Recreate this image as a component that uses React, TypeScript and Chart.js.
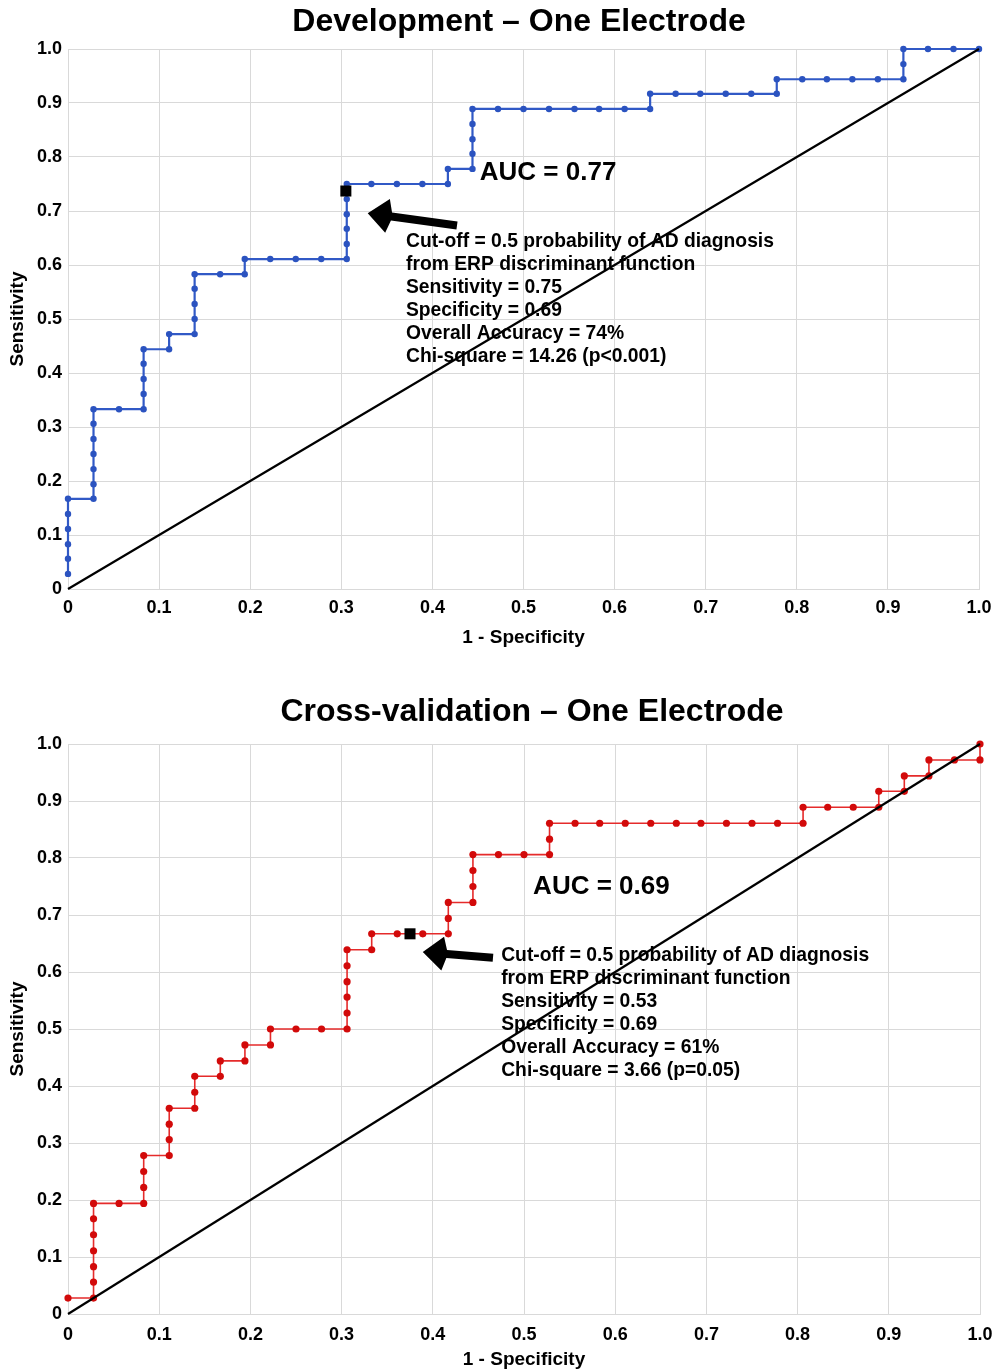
import React, { useEffect, useRef } from 'react';
import { Chart, registerables } from 'chart.js';

Chart.register(...registerables);

const FONT = '"Liberation Sans", Arial, Helvetica, sans-serif';

const X_TICK_LABELS = ['0', '0.1', '0.2', '0.3', '0.4', '0.5', '0.6', '0.7', '0.8', '0.9', '1.0'];
const Y_TICK_LABELS = ['0', '0.1', '0.2', '0.3', '0.4', '0.5', '0.6', '0.7', '0.8', '0.9', '1.0'];

// Development – One Electrode (1 - specificity, sensitivity)
const DEV_FPR = [
  0, 0, 0, 0, 0, 0,
  0.028, 0.028, 0.028, 0.028, 0.028, 0.028, 0.028,
  0.056, 0.083, 0.083, 0.083, 0.083, 0.083,
  0.111, 0.111,
  0.139, 0.139, 0.139, 0.139, 0.139,
  0.167, 0.194, 0.194,
  0.222, 0.25, 0.278, 0.306, 0.306, 0.306, 0.306, 0.306, 0.306,
  0.333, 0.361, 0.389, 0.417, 0.417,
  0.444, 0.444, 0.444, 0.444, 0.444,
  0.472, 0.5, 0.528, 0.556, 0.583, 0.611, 0.639, 0.639,
  0.667, 0.694, 0.722, 0.75, 0.778, 0.778,
  0.806, 0.833, 0.861, 0.889, 0.917, 0.917, 0.917,
  0.944, 0.972, 1.0,
];
const DEV_TPR = [
  0.028, 0.056, 0.083, 0.111, 0.139, 0.167,
  0.167, 0.194, 0.222, 0.25, 0.278, 0.306, 0.333,
  0.333, 0.333, 0.361, 0.389, 0.417, 0.444,
  0.444, 0.472,
  0.472, 0.5, 0.528, 0.556, 0.583,
  0.583, 0.583, 0.611,
  0.611, 0.611, 0.611, 0.611, 0.639, 0.667, 0.694, 0.722, 0.75,
  0.75, 0.75, 0.75, 0.75, 0.778,
  0.778, 0.806, 0.833, 0.861, 0.889,
  0.889, 0.889, 0.889, 0.889, 0.889, 0.889, 0.889, 0.917,
  0.917, 0.917, 0.917, 0.917, 0.917, 0.944,
  0.944, 0.944, 0.944, 0.944, 0.944, 0.972, 1.0,
  1.0, 1.0, 1.0,
];
const DEV_CUTOFF_FPR = [0.305];
const DEV_CUTOFF_TPR = [0.737];
const DEV_NOTES = [
  'Cut-off = 0.5 probability of AD diagnosis',
  'from ERP discriminant function',
  'Sensitivity = 0.75',
  'Specificity = 0.69',
  'Overall Accuracy = 74%',
  'Chi-square = 14.26 (p<0.001)',
];

// Cross-validation – One Electrode
const CV_FPR = [
  0,
  0.028, 0.028, 0.028, 0.028, 0.028, 0.028, 0.028,
  0.056, 0.083, 0.083, 0.083, 0.083,
  0.111, 0.111, 0.111, 0.111,
  0.139, 0.139, 0.139,
  0.167, 0.167,
  0.194, 0.194,
  0.222, 0.222,
  0.25, 0.278,
  0.306, 0.306, 0.306, 0.306, 0.306, 0.306,
  0.333, 0.333,
  0.361, 0.389,
  0.417, 0.417, 0.417,
  0.444, 0.444, 0.444, 0.444,
  0.472, 0.5,
  0.528, 0.528, 0.528,
  0.556, 0.583, 0.611, 0.639, 0.667, 0.694, 0.722, 0.75, 0.778,
  0.806, 0.806,
  0.833, 0.861,
  0.889, 0.889,
  0.917, 0.917,
  0.944, 0.944,
  0.972,
  1.0, 1.0,
];
const CV_TPR = [
  0.028,
  0.028, 0.056, 0.083, 0.111, 0.139, 0.167, 0.194,
  0.194, 0.194, 0.222, 0.25, 0.278,
  0.278, 0.306, 0.333, 0.361,
  0.361, 0.389, 0.417,
  0.417, 0.444,
  0.444, 0.472,
  0.472, 0.5,
  0.5, 0.5,
  0.5, 0.528, 0.556, 0.583, 0.611, 0.639,
  0.639, 0.667,
  0.667, 0.667,
  0.667, 0.694, 0.722,
  0.722, 0.75, 0.778, 0.806,
  0.806, 0.806,
  0.806, 0.833, 0.861,
  0.861, 0.861, 0.861, 0.861, 0.861, 0.861, 0.861, 0.861, 0.861,
  0.861, 0.889,
  0.889, 0.889,
  0.889, 0.917,
  0.917, 0.944,
  0.944, 0.972,
  0.972,
  0.972, 1.0,
];
const CV_CUTOFF_FPR = [0.375];
const CV_CUTOFF_TPR = [0.667];
const CV_NOTES = [
  'Cut-off = 0.5 probability of AD diagnosis',
  'from ERP discriminant function',
  'Sensitivity = 0.53',
  'Specificity = 0.69',
  'Overall Accuracy = 61%',
  'Chi-square = 3.66 (p=0.05)',
];

const DIAG_X = [0, 1];
const DIAG_Y = [0, 1];

type RocSpec = {
  title: string;
  auc: string;
  fpr: number[];
  tpr: number[];
  cutFpr: number[];
  cutTpr: number[];
  notes: string[];
  lineColor: string;
  pointColor: string;
  lineWidth: number;
  pointRadius: number;
  aucAt: [number, number];
  notesAt: [number, number];
  arrowTip: [number, number];
  arrowTail: [number, number];
  padRight: number;
  padTop: number;
  titleX: number;
  titleY: number;
  xHeight: number;
  xTickPad: number;
  xTitlePadBottom: number;
};

function makeAnnotationPlugin(spec: RocSpec) {
  return {
    id: 'rocAnnotations',
    beforeDatasetsDraw(chart: any) {
      const { ctx, scales } = chart;
      const xs = scales.x;
      const ys = scales.y;
      ctx.save();
      ctx.fillStyle = '#000';
      ctx.textAlign = 'left';
      ctx.textBaseline = 'middle';
      ctx.font = `bold 26px ${FONT}`;
      ctx.fillText(spec.auc, xs.getPixelForValue(spec.aucAt[0]), ys.getPixelForValue(spec.aucAt[1]));
      ctx.font = `bold 19.3px ${FONT}`;
      const nx = xs.getPixelForValue(spec.notesAt[0]);
      const ny = ys.getPixelForValue(spec.notesAt[1]);
      spec.notes.forEach((t, i) => ctx.fillText(t, nx, ny + i * 23));

      // arrow pointing at the cut-off marker
      const tx = xs.getPixelForValue(spec.arrowTip[0]);
      const ty = ys.getPixelForValue(spec.arrowTip[1]);
      const sx = xs.getPixelForValue(spec.arrowTail[0]);
      const sy = ys.getPixelForValue(spec.arrowTail[1]);
      const ang = Math.atan2(ty - sy, tx - sx);
      const len = Math.hypot(tx - sx, ty - sy);
      const headLen = 24;
      const headHalf = 17;
      const shaftHalf = 4;
      ctx.translate(sx, sy);
      ctx.rotate(ang);
      ctx.beginPath();
      ctx.moveTo(0, -shaftHalf);
      ctx.lineTo(len - headLen, -shaftHalf);
      ctx.lineTo(len - headLen + 4, -headHalf);
      ctx.lineTo(len, 0);
      ctx.lineTo(len - headLen + 4, headHalf);
      ctx.lineTo(len - headLen, shaftHalf);
      ctx.lineTo(0, shaftHalf);
      ctx.closePath();
      ctx.fill();
      ctx.restore();
    },
    afterDraw(chart: any) {
      const { ctx } = chart;
      ctx.save();
      ctx.fillStyle = '#000';
      ctx.textAlign = 'center';
      ctx.textBaseline = 'middle';
      ctx.font = `bold 32px ${FONT}`;
      ctx.fillText(spec.title, spec.titleX, spec.titleY);
      ctx.restore();
    },
  };
}

function buildConfig(spec: RocSpec): any {
  const tickFont = { family: FONT, size: 18, weight: 'bold' as const };
  const axisTitleFont = { family: FONT, size: 19, weight: 'bold' as const };
  return {
    type: 'scatter',
    data: {
      datasets: [
        {
          label: 'Cut-off',
          data: spec.cutFpr.map((v, i) => ({ x: v, y: spec.cutTpr[i] })),
          pointStyle: 'rect',
          pointRadius: 7.8,
          backgroundColor: '#000',
          borderColor: '#000',
          borderWidth: 0,
          showLine: false,
          order: 0,
          clip: false,
        },
        {
          label: 'Chance',
          data: DIAG_X.map((v, i) => ({ x: v, y: DIAG_Y[i] })),
          showLine: true,
          borderColor: '#000',
          borderWidth: 2.2,
          pointRadius: 0,
          order: 1,
          clip: false,
        },
        {
          label: 'ROC',
          data: spec.fpr.map((v, i) => ({ x: v, y: spec.tpr[i] })),
          showLine: true,
          borderColor: spec.lineColor,
          borderWidth: spec.lineWidth,
          pointRadius: spec.pointRadius,
          pointBackgroundColor: spec.pointColor,
          pointBorderColor: spec.pointColor,
          pointBorderWidth: 0,
          tension: 0,
          order: 2,
          clip: false,
        },
      ],
    },
    options: {
      responsive: false,
      animation: false,
      events: [],
      layout: { padding: { left: 0, right: spec.padRight, top: spec.padTop, bottom: 0 } },
      plugins: {
        legend: { display: false },
        tooltip: { enabled: false },
        title: { display: false },
      },
      scales: {
        x: {
          type: 'linear',
          min: 0,
          max: 1,
          ticks: {
            stepSize: 0.1,
            color: '#000',
            font: tickFont,
            padding: spec.xTickPad,
            maxRotation: 0,
            autoSkip: false,
            callback: (_v: any, i: number) => X_TICK_LABELS[i],
          },
          grid: { color: '#d9d9d9', lineWidth: 1, drawTicks: false },
          border: { color: '#d9d9d9' },
          title: {
            display: true,
            text: '1 - Specificity',
            color: '#000',
            font: axisTitleFont,
            padding: { top: 0, bottom: spec.xTitlePadBottom },
          },
          afterFit: (s: any) => {
            s.height = spec.xHeight;
            s.paddingLeft = 0;
            s.paddingRight = 0;
          },
        },
        y: {
          type: 'linear',
          min: 0,
          max: 1,
          ticks: {
            stepSize: 0.1,
            color: '#000',
            font: tickFont,
            padding: 6,
            autoSkip: false,
            callback: (_v: any, i: number) => Y_TICK_LABELS[i],
          },
          grid: { color: '#d9d9d9', lineWidth: 1, drawTicks: false },
          border: { color: '#d9d9d9' },
          title: {
            display: true,
            text: 'Sensitivity',
            color: '#000',
            font: axisTitleFont,
            padding: { top: 6, bottom: 0 },
          },
          afterFit: (s: any) => {
            s.width = 68;
            s.paddingTop = 0;
            s.paddingBottom = 0;
          },
        },
      },
    },
    plugins: [makeAnnotationPlugin(spec)],
  };
}

const DEV_SPEC: RocSpec = {
  title: 'Development \u2013 One Electrode',
  auc: 'AUC = 0.77',
  fpr: DEV_FPR,
  tpr: DEV_TPR,
  cutFpr: DEV_CUTOFF_FPR,
  cutTpr: DEV_CUTOFF_TPR,
  notes: DEV_NOTES,
  lineColor: '#3159c6',
  pointColor: '#2b53c0',
  lineWidth: 2.2,
  pointRadius: 3.2,
  aucAt: [0.452, 0.77],
  notesAt: [0.371, 0.643],
  arrowTip: [0.329, 0.696],
  arrowTail: [0.427, 0.673],
  padRight: 17,
  padTop: 49,
  titleX: 519,
  titleY: 22,
  xHeight: 71,
  xTickPad: 8,
  xTitlePadBottom: 11,
};

const CV_SPEC: RocSpec = {
  title: 'Cross-validation \u2013 One Electrode',
  auc: 'AUC = 0.69',
  fpr: CV_FPR,
  tpr: CV_TPR,
  cutFpr: CV_CUTOFF_FPR,
  cutTpr: CV_CUTOFF_TPR,
  notes: CV_NOTES,
  lineColor: '#e52b2b',
  pointColor: '#d20a0a',
  lineWidth: 1.6,
  pointRadius: 3.6,
  aucAt: [0.51, 0.749],
  notesAt: [0.475, 0.628],
  arrowTip: [0.389, 0.635],
  arrowTail: [0.466, 0.625],
  padRight: 16,
  padTop: 84,
  titleX: 532,
  titleY: 52,
  xHeight: 57,
  xTickPad: 10,
  xTitlePadBottom: 0,
};

function RocChart({ spec, top, height }: { spec: RocSpec; top: number; height: number }) {
  const ref = useRef<HTMLCanvasElement | null>(null);
  useEffect(() => {
    if (!ref.current) return;
    const chart = new Chart(ref.current, buildConfig(spec));
    return () => chart.destroy();
  }, [spec]);
  return (
    <canvas
      ref={ref}
      width={996}
      height={height}
      style={{ position: 'absolute', left: 0, top, width: 996, height, display: 'block' }}
    />
  );
}

export default function App() {
  return (
    <div
      style={{
        position: 'absolute',
        left: 0,
        top: 0,
        width: 996,
        height: 1371,
        background: '#fff',
        overflow: 'hidden',
      }}
    >
      <RocChart spec={DEV_SPEC} top={0} height={660} />
      <RocChart spec={CV_SPEC} top={660} height={711} />
    </div>
  );
}
